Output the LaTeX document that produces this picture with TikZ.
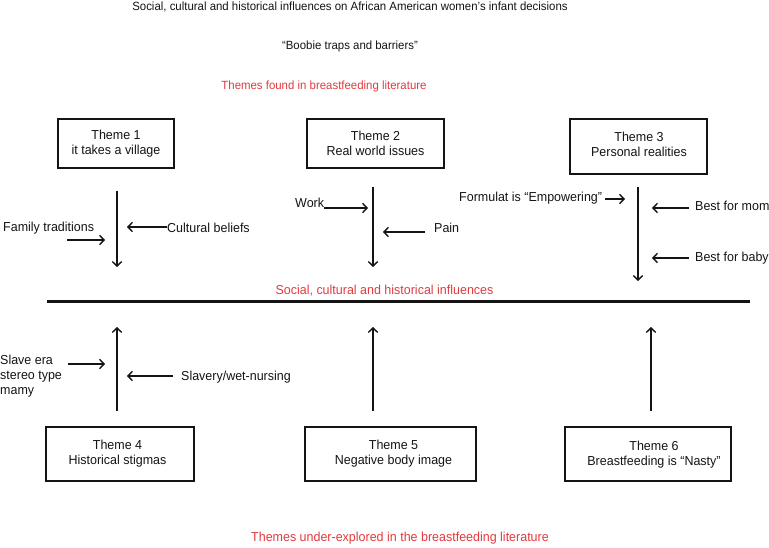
\documentclass[tikz,border=0pt]{standalone}
\usepackage{fontspec}
\setmainfont{Liberation Sans}[FakeStretch=0.96]
\usetikzlibrary{arrows.meta,shadows}
\definecolor{redtxt}{RGB}{226,58,62}
\definecolor{ink}{RGB}{20,20,20}
\begin{document}
\begin{tikzpicture}[x=1pt,y=-1pt,
  lbl/.style={inner sep=0pt, font=\fontsize{13}{15}\selectfont, text=ink},
  ttl/.style={inner sep=0pt, font=\fontsize{11.9}{14}\selectfont, text=ink},
  redlbl/.style={inner sep=0pt, font=\fontsize{13}{15}\selectfont, text=redtxt},
  redsmall/.style={inner sep=0pt, font=\fontsize{11.9}{14}\selectfont, text=redtxt},
  themebox/.style={draw=ink, line width=1.3pt, fill=white, inner sep=0pt, align=center,
    font=\fontsize{13}{15}\selectfont, text=ink,
    drop shadow={shadow xshift=1.2pt, shadow yshift=-1.2pt, opacity=0.35, fill=black!50}},
  arr/.style={draw=ink, line width=1.4pt, -{Straight Barb[length=4.5pt,width=9.5pt,line width=1.4pt]}},
  base/.style={draw=ink, line width=2.4pt}]
\useasboundingbox (0,0) rectangle (769,548);

% headings
\node[ttl] (title) at (350,7) {Social, cultural and historical influences on African American women’s infant decisions};
\node[ttl] (sub) at (350,46) {“Boobie traps and barriers”};
\node[redsmall] (found) at (324,86) {Themes found in breastfeeding literature};

% top theme boxes
\node[themebox, minimum width=116pt, minimum height=49pt] (t1) at (116,143.5) {Theme 1\\it takes a village};
\node[themebox, minimum width=137pt, minimum height=49pt] (t2) at (375.5,143.5) {Theme 2\\Real world issues};
\node[themebox, minimum width=137pt, minimum height=55pt] (t3) at (638.5,146.5) {};
\node[lbl, align=center] (t3txt) at (639,144.5) {Theme 3\\Personal realities};

% theme 1 arrows
\coordinate (a1s) at (117,191);
\coordinate (a1e) at (117,267);
\draw[arr] (a1s) -- (a1e);
\node[lbl, anchor=west] (fam) at (3,228) {Family traditions};
\node[lbl, anchor=west] (cult) at (167,228) {Cultural beliefs};
\coordinate (famS) at (67,240);
\coordinate (famE) at (105,240);
\coordinate (cultE) at (127,227);
\draw[arr] (famS) -- (famE);
\draw[arr] (cult.west |- 0,227) -- (cultE);

% theme 2 arrows
\coordinate (a2s) at (373,187);
\coordinate (a2e) at (373,267);
\draw[arr] (a2s) -- (a2e);
\node[lbl, anchor=west] (work) at (295,203) {Work};
\node[lbl, anchor=west] (pain) at (434,228) {Pain};
\coordinate (workE) at (368,208);
\coordinate (painS) at (425,232);
\coordinate (painE) at (383,232);
\draw[arr] (work.east |- 0,208) -- (workE);
\draw[arr] (painS) -- (painE);

% theme 3 arrows
\coordinate (a3s) at (638,187);
\coordinate (a3e) at (638,281);
\draw[arr] (a3s) -- (a3e);
\node[lbl, anchor=west] (form) at (459,198) {Formulat is “Empowering”};
\node[lbl, anchor=west] (mom) at (695,206) {Best for mom};
\node[lbl, anchor=west] (baby) at (695,258) {Best for baby};
\coordinate (formE) at (625,199);
\coordinate (momS) at (689,208);
\coordinate (momE) at (652,208);
\coordinate (babyS) at (689,258);
\coordinate (babyE) at (652,258);
\draw[arr] ([xshift=3pt]form.east |- 0,199) -- (formE);
\draw[arr] (momS) -- (momE);
\draw[arr] (babyS) -- (babyE);

% middle
\node[redlbl] (mid) at (384.5,291) {Social, cultural and historical influences};
\coordinate (hl) at (47,301.5);
\coordinate (hr) at (750,301.5);
\draw[base] (hl) -- (hr);

% bottom theme boxes
\node[themebox, minimum width=148pt, minimum height=54pt] (t4) at (120,454) {};
\node[lbl, align=center] (t4txt) at (117.5,453.5) {Theme 4\\Historical stigmas};
\node[themebox, minimum width=171pt, minimum height=54pt] (t5) at (390.5,454) {};
\node[lbl, align=center] (t5txt) at (393.5,453.5) {Theme 5\\Negative body image};
\node[themebox, minimum width=166pt, minimum height=54pt] (t6) at (648,454) {};
\node[lbl, align=center] (t6txt) at (654,455) {Theme 6\\Breastfeeding is “Nasty”};

% bottom arrows
\coordinate (a4s) at (117,411);
\coordinate (a4e) at (117,327);
\draw[arr] (a4s) -- (a4e);
\coordinate (a5s) at (373,411);
\coordinate (a5e) at (373,327);
\draw[arr] (a5s) -- (a5e);
\coordinate (a6s) at (651,411);
\coordinate (a6e) at (651,327);
\draw[arr] (a6s) -- (a6e);

\node[lbl, anchor=west, align=left] (slave) at (0,376) {Slave era\\stereo type\\mamy};
\node[lbl, anchor=west] (wet) at (181,377) {Slavery/wet-nursing};
\coordinate (slaveS) at (68,364);
\coordinate (slaveE) at (105,364);
\coordinate (wetS) at (173,376);
\coordinate (wetE) at (127,376);
\draw[arr] (slaveS) -- (slaveE);
\draw[arr] (wetS) -- (wetE);

\node[redlbl] (under) at (400,538) {Themes under-explored in the breastfeeding literature};
\end{tikzpicture}
\end{document}
